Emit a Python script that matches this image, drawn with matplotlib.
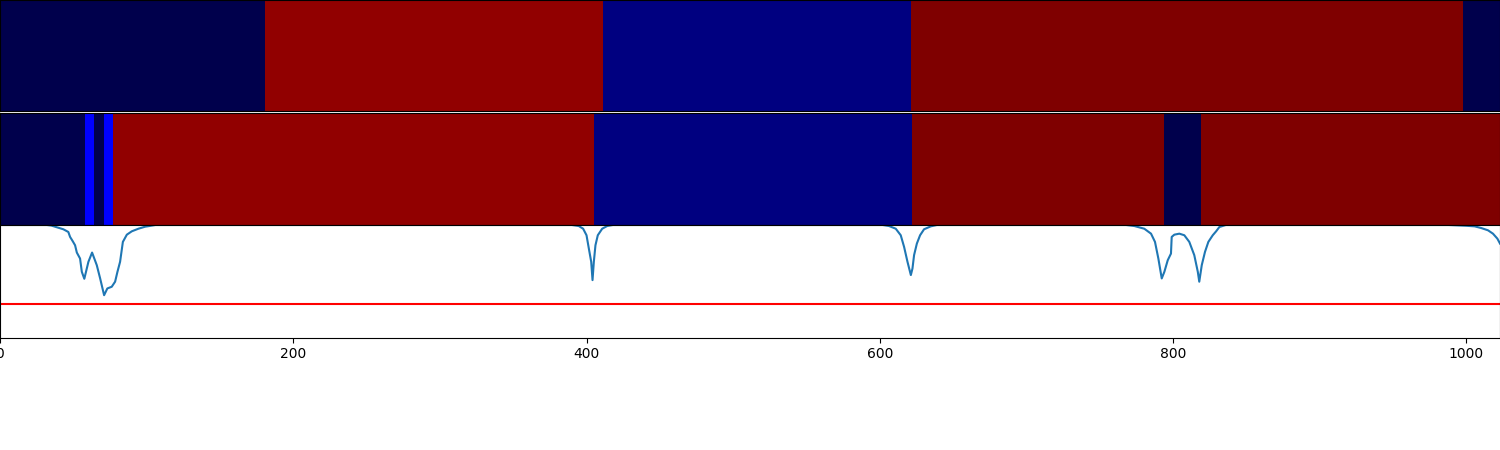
import numpy as np
import matplotlib
matplotlib.use("Agg")
import matplotlib.pyplot as plt
from matplotlib.colors import ListedColormap

N = 1023

# segment colours (class id -> colour)
CLASS_COLORS = ["#00004c", "#910000", "#000080", "#7f0000", "#0000ff"]

# ground-truth segmentation: class ids and segment end positions
gt_labels = [0, 1, 2, 3, 0]
gt_ends   = [181, 411, 621, 998, N]

# predicted segmentation
pred_labels = [0, 4, 0, 4, 1, 2, 3, 0, 3]
pred_ends   = [58, 64, 71, 77, 405, 622, 794, 819, N]

# similarity score curve
score_x = [0, 32, 35, 37.5, 43.2, 46.6, 47.8, 49.6, 51.2, 52.4, 54.6, 55.8, 57.5,
           60.3, 62.8, 66.0, 68.3, 71.0, 73.2, 76.2, 78.5, 80.1, 81.9, 83.8, 86.5,
           89.9, 94.4, 99.0, 102.4, 106,
           390, 394.7, 397.7, 400.0, 401.6, 403.2, 404.1, 405.0, 406.1, 407.7, 410.7,
           414.1, 418,
           602, 606.3, 610.9, 614.3, 616.6, 618.9, 621.2, 622.3, 623.4, 625.3, 627.5,
           630.2, 634.8, 639,
           768, 773.6, 780.4, 785.0, 787.7, 790.0, 792.3, 794.1, 796.4, 798.6, 799.1,
           800.9, 804.3, 807.7, 811.1, 814.5, 816.9, 817.9, 819.6, 821.8, 824.1, 827.1,
           829.4, 831.6, 836,
           988, 995, 1000, 1005.7, 1010.2, 1014.8, 1018.2, 1021.2, 1023]
score_y = [1.0, 1.0, 0.995, 0.985, 0.962, 0.938, 0.894, 0.856, 0.820, 0.755, 0.702, 0.584, 0.522,
           0.673, 0.755, 0.643, 0.525, 0.376, 0.436, 0.451, 0.496, 0.584, 0.673, 0.850, 0.914,
           0.944, 0.967, 0.985, 0.992, 1.0,
           1.0, 0.991, 0.967, 0.909, 0.790, 0.673, 0.510, 0.673, 0.820, 0.909, 0.967,
           0.991, 1.0,
           1.0, 0.991, 0.967, 0.909, 0.805, 0.673, 0.555, 0.613, 0.732, 0.835, 0.909,
           0.962, 0.988, 1.0,
           1.0, 0.991, 0.967, 0.923, 0.850, 0.702, 0.525, 0.584, 0.687, 0.746, 0.894,
           0.914, 0.923, 0.909, 0.850, 0.732, 0.584, 0.496, 0.643, 0.761, 0.850, 0.909,
           0.944, 0.982, 1.0,
           1.0, 0.996, 0.993, 0.988, 0.973, 0.953, 0.923, 0.879, 0.835]

THRESHOLD = 0.3
XTICKS = [0, 200, 400, 600, 800, 1000]


def seg_array(labels, ends):
    lengths = np.diff([0] + ends)
    return np.repeat(labels, lengths)[np.newaxis, :]


def main():
    cmap = ListedColormap(CLASS_COLORS)

    fig = plt.figure(figsize=(15, 4.5), dpi=100)
    ax_gt = fig.add_axes([0, 0.7533, 1, 0.2467])
    ax_pr = fig.add_axes([0, 0.5, 1, 0.2489])
    ax_sc = fig.add_axes([0, 0.25, 1, 0.25])

    for ax, labels, ends in ((ax_gt, gt_labels, gt_ends), (ax_pr, pred_labels, pred_ends)):
        ax.imshow(seg_array(labels, ends), cmap=cmap, vmin=-0.5, vmax=len(CLASS_COLORS) - 0.5,
                  aspect="auto", interpolation="nearest", extent=(0, N, 0, 1))
        ax.set_xlim(0, N)
        ax.set_xticks([])
        ax.set_yticks([])

    ax_sc.plot(score_x, score_y, color="#1f77b4", lw=1.5)
    ax_sc.axhline(THRESHOLD, color="red", lw=1.5)
    ax_sc.set_xlim(0, N)
    ax_sc.set_ylim(0, 1)
    ax_sc.set_xticks(XTICKS)
    ax_sc.set_yticks([])

    fig.savefig("out.png", dpi=100)
    plt.close(fig)


if __name__ == "__main__":
    main()
